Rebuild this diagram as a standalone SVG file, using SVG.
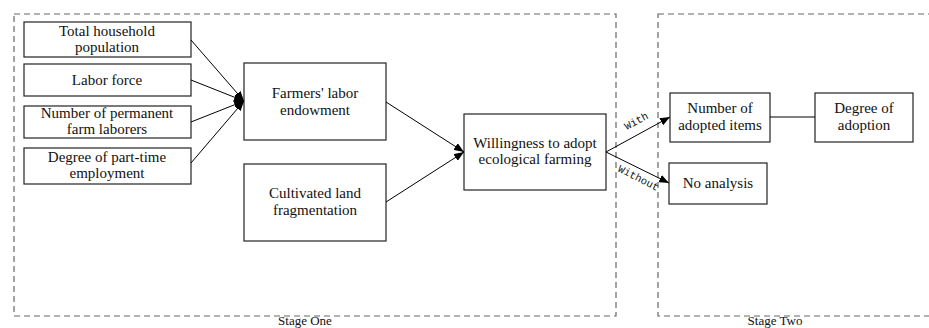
<svg xmlns="http://www.w3.org/2000/svg" width="929" height="328" viewBox="0 0 929 328">
<defs>
<marker id="arr" viewBox="0 0 10 8" refX="10" refY="4" markerWidth="10" markerHeight="8" markerUnits="userSpaceOnUse" orient="auto">
<path d="M0,0 L10,4 L0,8 Z" fill="#000"/>
</marker>
</defs>
<style>
.node rect{fill:#fff;stroke:#222;stroke-width:1.2}
.node text, .lbl{font-family:"Liberation Serif","Times New Roman",serif;font-size:15px;fill:#111;text-anchor:middle}
.lbl{font-size:13px}
.stage{fill:none;stroke:#666;stroke-width:1.2;stroke-dasharray:6,4}
.conn line{stroke:#000;stroke-width:1}
.edge{font-family:"Liberation Mono","Courier New",monospace;font-size:10.5px;fill:#111;text-anchor:middle}
</style>
<rect width="929" height="328" fill="#fff"/>
<g id="stage-one">
<rect class="stage" x="14" y="14" width="602" height="302"/>
<text class="lbl" x="305" y="325">Stage One</text>
</g>
<g id="stage-two">
<rect class="stage" x="658" y="14" width="290" height="302"/>
<text class="lbl" x="775" y="325">Stage Two</text>
</g>
<g id="n-total" class="node"><rect x="24" y="22" width="167" height="35"/><text x="107" y="36">Total household</text><text x="107" y="52">population</text></g>
<g id="n-labor" class="node"><rect x="24" y="64" width="167" height="32"/><text x="107" y="85">Labor force</text></g>
<g id="n-perm" class="node"><rect x="24" y="106" width="167" height="32"/><text x="107" y="118">Number of permanent</text><text x="107" y="134">farm laborers</text></g>
<g id="n-part" class="node"><rect x="24" y="148" width="167" height="36"/><text x="107" y="162">Degree of part-time</text><text x="107" y="178">employment</text></g>
<g id="n-endow" class="node"><rect x="244" y="63" width="142" height="77"/><text x="315" y="98">Farmers' labor</text><text x="315" y="115">endowment</text></g>
<g id="n-land" class="node"><rect x="244" y="164" width="142" height="77"/><text x="315" y="198">Cultivated land</text><text x="315" y="215">fragmentation</text></g>
<g id="n-will" class="node"><rect x="464" y="114" width="142" height="76"/><text x="535" y="148">Willingness to adopt</text><text x="535" y="164">ecological farming</text></g>
<g id="n-num" class="node"><rect x="670" y="93" width="100" height="49"/><text x="720" y="113">Number of</text><text x="720" y="130">adopted items</text></g>
<g id="n-deg" class="node"><rect x="815" y="93" width="98" height="49"/><text x="864" y="113">Degree of</text><text x="864" y="130">adoption</text></g>
<g id="n-no" class="node"><rect x="669" y="163" width="98" height="41"/><text x="718" y="188">No analysis</text></g>
<g id="connectors" class="conn">
<line x1="191" y1="40" x2="244" y2="101" marker-end="url(#arr)"/>
<line x1="191" y1="80" x2="244" y2="101" marker-end="url(#arr)"/>
<line x1="191" y1="122" x2="244" y2="101" marker-end="url(#arr)"/>
<line x1="191" y1="163" x2="244" y2="101" marker-end="url(#arr)"/>
<line x1="386" y1="102" x2="464" y2="152" marker-end="url(#arr)"/>
<line x1="386" y1="202" x2="464" y2="152" marker-end="url(#arr)"/>
<line x1="606" y1="152" x2="670" y2="117" marker-end="url(#arr)"/>
<line x1="606" y1="152" x2="669" y2="183" marker-end="url(#arr)"/>
<line x1="770" y1="117" x2="815" y2="117"/>
<text class="edge" transform="translate(638,124) rotate(-28)">With</text>
<text class="edge" transform="translate(637,181) rotate(27)">Without</text>
</g>
</svg>
